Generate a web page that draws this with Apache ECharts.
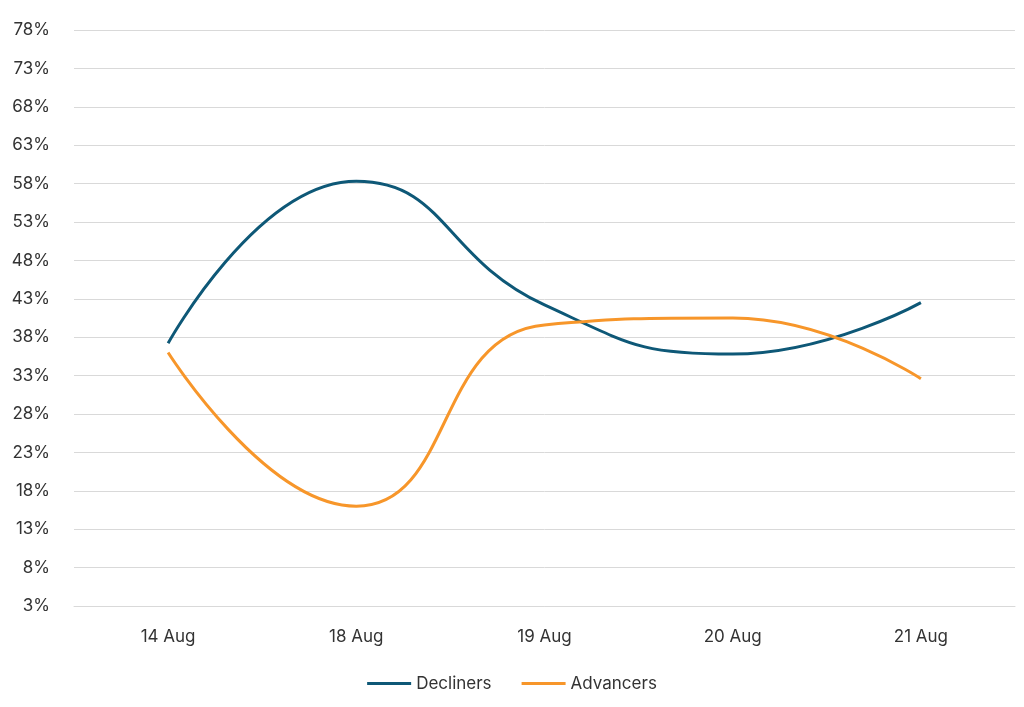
<!DOCTYPE html>
<html><head><meta charset="utf-8">
<script src="https://cdn.jsdelivr.net/npm/echarts@6/dist/echarts.min.js"></script>
<style>html,body{margin:0;padding:0;background:#fff}#c{width:1024px;height:707px}</style>
</head><body><div id="c"></div>
<script>
const categories = ['14 Aug','18 Aug','19 Aug','20 Aug','21 Aug'];
const decliners = [37.2, 58.3, 42.2, 35.8, 42.5];
const advancers = [36.0, 16.0, 39.6, 40.5, 32.6];
const chart = echarts.init(document.getElementById('c'));
const font = 'Inter';
chart.setOption({
  animation:false,
  grid:{left:74,right:9,top:30,bottom:101},
  legend:{bottom:10,itemWidth:44,itemHeight:3,icon:'rect',itemGap:30,
    textStyle:{fontFamily:font,fontSize:17,color:'#333'},
    data:['Decliners','Advancers']},
  xAxis:{type:'category',data:categories,boundaryGap:true,
    axisLine:{lineStyle:{color:'#d9d9d9'}},axisTick:{show:false},
    axisLabel:{fontFamily:font,fontSize:17,color:'#333',margin:22}},
  yAxis:{type:'value',min:3,max:78,interval:5,
    axisLabel:{formatter:'{value}%',fontFamily:font,fontSize:17,color:'#333',margin:24},
    axisLine:{show:false},axisTick:{show:false},
    splitLine:{lineStyle:{color:'#d9d9d9'}}},
  series:[
    {name:'Decliners',type:'line',data:decliners,smooth:0.5,symbol:'none',
     lineStyle:{width:3,color:'#0e5877'},itemStyle:{color:'#0e5877'}},
    {name:'Advancers',type:'line',data:advancers,smooth:0.5,symbol:'none',
     lineStyle:{width:3,color:'#f7962a'},itemStyle:{color:'#f7962a'}}
  ]
});
</script></body></html>
